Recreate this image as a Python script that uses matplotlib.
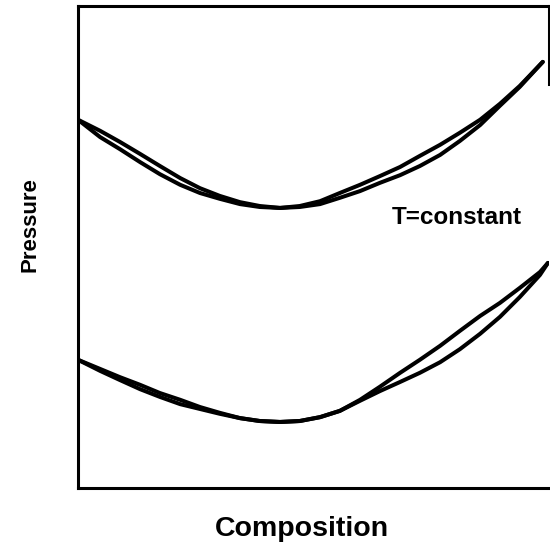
import matplotlib.pyplot as plt

# Points (composition 0..1, pressure in arbitrary units 0..1)
x_upper = [0.0, 0.047, 0.089, 0.132, 0.174, 0.217, 0.259, 0.301, 0.344, 0.386, 0.429, 0.471,
           0.514, 0.556, 0.599, 0.641, 0.684, 0.726, 0.769, 0.811, 0.854, 0.896, 0.938, 0.987]
p_upper_bubble = [0.764, 0.741, 0.718, 0.693, 0.668, 0.643, 0.622, 0.606, 0.593, 0.585, 0.581, 0.585,
                  0.595, 0.612, 0.629, 0.647, 0.666, 0.689, 0.712, 0.737, 0.764, 0.797, 0.834, 0.884]
p_upper_dew = [0.764, 0.728, 0.703, 0.676, 0.651, 0.629, 0.612, 0.600, 0.589, 0.583, 0.581, 0.583,
               0.589, 0.602, 0.616, 0.633, 0.649, 0.668, 0.691, 0.720, 0.753, 0.793, 0.832, 0.884]

x_lower = [0.0, 0.047, 0.089, 0.132, 0.174, 0.217, 0.259, 0.301, 0.344, 0.386, 0.429, 0.471,
           0.514, 0.556, 0.599, 0.641, 0.684, 0.726, 0.769, 0.811, 0.854, 0.896, 0.938, 0.981, 0.998]
p_lower_bubble = [0.266, 0.247, 0.230, 0.214, 0.197, 0.183, 0.168, 0.156, 0.145, 0.139, 0.137, 0.139,
                  0.147, 0.160, 0.183, 0.210, 0.239, 0.266, 0.295, 0.326, 0.357, 0.384, 0.415, 0.448, 0.467]
p_lower_dew = [0.266, 0.243, 0.224, 0.205, 0.189, 0.174, 0.164, 0.154, 0.145, 0.139, 0.137, 0.139,
               0.147, 0.160, 0.181, 0.201, 0.220, 0.239, 0.261, 0.288, 0.320, 0.355, 0.396, 0.442, 0.467]

plt.rcParams['font.family'] = ['Liberation Sans', 'DejaVu Sans']

fig = plt.figure(figsize=(5.5, 5.42), dpi=100)
ax = fig.add_axes([0.1418, 0.0996, 0.8562, 0.8894])

line_kw = dict(color='black', lw=2.9, solid_capstyle='round', solid_joinstyle='round')
ax.plot(x_upper, p_upper_bubble, **line_kw)
ax.plot(x_upper, p_upper_dew, **line_kw)
ax.plot(x_lower, p_lower_bubble, **line_kw)
ax.plot(x_lower, p_lower_dew, **line_kw)

ax.set_xlim(0, 1)
ax.set_ylim(0, 1)
ax.set_xticks([])
ax.set_yticks([])
for side in ['left', 'bottom', 'top', 'right']:
    ax.spines[side].set_linewidth(2.2)
# the scanned original shows only the upper part of the right border
ax.spines['right'].set_bounds(0.838, 1.0)

ax.text(0.805, 0.562, 'T=constant', ha='center', va='center',
        fontsize=17.5, fontweight='bold')

fig.text(0.549, 0.024, 'Composition', ha='center', va='center',
         fontsize=20.5, fontweight='bold')
fig.text(0.0545, 0.585, 'Pressure', ha='center', va='center', rotation=90,
         fontsize=16, fontweight='bold')

fig.savefig('out.png', dpi=100, facecolor='white')
